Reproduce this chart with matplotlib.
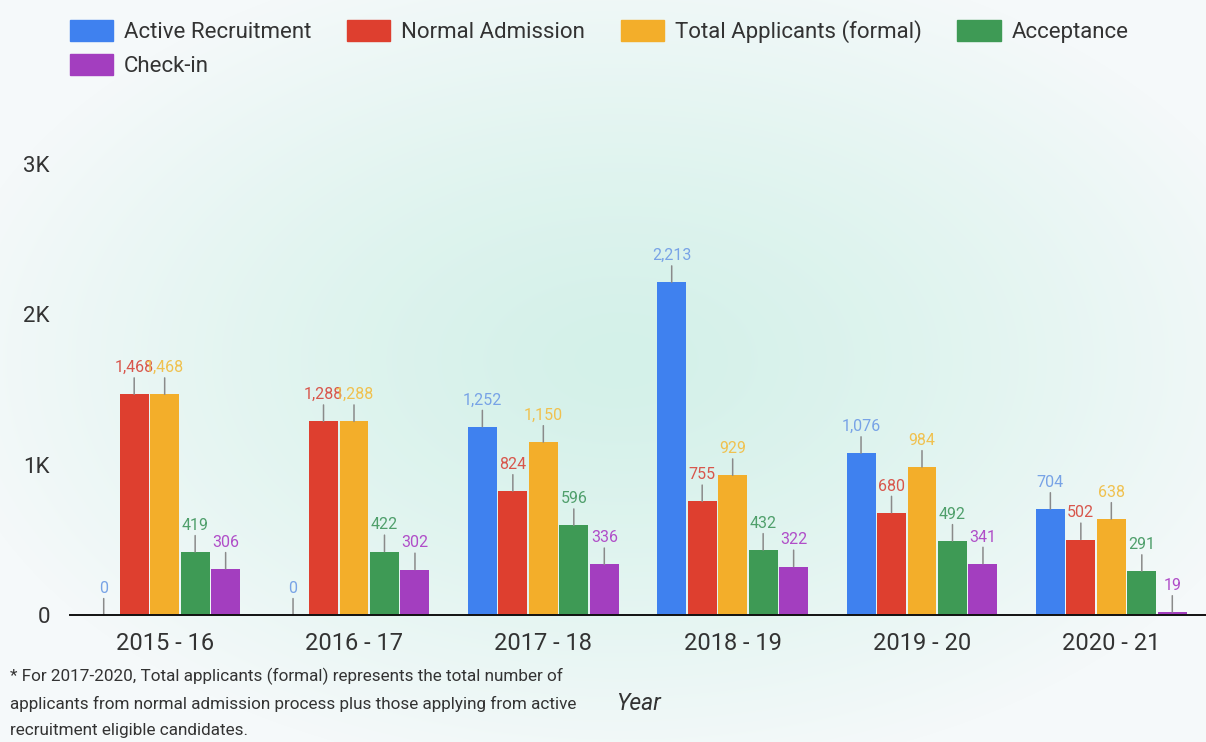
import numpy as np
import matplotlib
matplotlib.use('Agg')
import matplotlib.pyplot as plt
from matplotlib.patches import Patch
from matplotlib.colors import to_rgb

plt.rcParams['font.family'] = ['Roboto', 'DejaVu Sans']

# data
years = ['2015 - 16', '2016 - 17', '2017 - 18', '2018 - 19', '2019 - 20', '2020 - 21']
active_recruitment = [0, 0, 1252, 2213, 1076, 704]
normal_admission = [1468, 1288, 824, 755, 680, 502]
total_applicants = [1468, 1288, 1150, 929, 984, 638]
acceptance = [419, 422, 596, 432, 492, 291]
check_in = [306, 302, 336, 322, 341, 19]

series_names = ['Active Recruitment', 'Normal Admission', 'Total Applicants (formal)',
                'Acceptance', 'Check-in']
series_values = [active_recruitment, normal_admission, total_applicants, acceptance, check_in]
bar_colors = ['#3f81ef', '#de3f2f', '#f3ae2a', '#3e9a55', '#a33ebf']
label_colors = ['#78a3e6', '#d8564c', '#f0c14f', '#4f9f6b', '#b04ec8']

W, H = 1206, 742
fig = plt.figure(figsize=(W / 100, H / 100), dpi=100)

# soft radial glow in the background
bg = fig.add_axes([0, 0, 1, 1], zorder=-10)
xx, yy = np.meshgrid(np.arange(W), np.arange(H))
t = np.sqrt(((xx - 620) / 680.0) ** 2 + ((yy - 360) / 420.0) ** 2)
t = np.clip(t, 0, 1) ** 1.3
c_in = np.array(to_rgb('#d4f1e9'))
c_out = np.array(to_rgb('#f5f9fa'))
img = c_in[None, None, :] * (1 - t[..., None]) + c_out[None, None, :] * t[..., None]
bg.imshow(img, extent=[0, W, H, 0], aspect='auto')
bg.axis('off')

ax = fig.add_axes([70 / W, (H - 615) / H, (W - 70) / W, (615 - 164) / H])
ax.set_facecolor('none')

x = np.arange(len(years))
slot = 0.161
width = 0.153
for i, (name, vals) in enumerate(zip(series_names, series_values)):
    xpos = x + (i - 2) * slot
    ax.bar(xpos, vals, width, color=bar_colors[i], label=name, zorder=2)
    for xp, v in zip(xpos, vals):
        ax.annotate('{:,}'.format(v), xy=(xp, v), xytext=(0, 16), textcoords='offset points',
                    ha='center', va='baseline', fontsize=11.5, color=label_colors[i],
                    arrowprops=dict(arrowstyle='-', color='#8a8a8a', lw=1.1,
                                    shrinkA=0, shrinkB=0),
                    annotation_clip=False, zorder=3)

ax.set_xlim(-0.5, len(years) - 0.5)
ax.set_ylim(0, 3000)
ax.set_yticks([0, 1000, 2000, 3000])
ax.set_yticklabels(['0', '1K', '2K', '3K'])
ax.set_xticks(x)
ax.set_xticklabels(years)
ax.tick_params(axis='both', length=0, labelcolor='#333333', labelsize=16)
ax.tick_params(axis='x', pad=12, labelsize=17)
ax.tick_params(axis='y', pad=14.5)
for s in ['top', 'right', 'left']:
    ax.spines[s].set_visible(False)
ax.spines['bottom'].set_color('#111111')
ax.spines['bottom'].set_linewidth(1.4)
ax.spines['bottom'].set_zorder(4)

ax.set_xlabel('Year', fontsize=16.5, fontstyle='italic', color='#333333', labelpad=27)

# legend, row-major order like the original
handles = [Patch(color=c) for c in bar_colors]
order = [0, 4, 1, 2, 3]
fig.legend([handles[k] for k in order], [series_names[k] for k in order],
           ncol=4, loc='upper left', bbox_to_anchor=(70 / W, (H - 20) / H),
           frameon=False, fontsize=16, handlelength=1.94, handleheight=1.08,
           handletextpad=0.5, columnspacing=1.6, labelspacing=0.5,
           borderpad=0, borderaxespad=0, labelcolor='#333333')

fig.text(10 / W, (H - 668) / H,
         '* For 2017-2020, Total applicants (formal) represents the total number of\n'
         'applicants from normal admission process plus those applying from active\n'
         'recruitment eligible candidates.',
         ha='left', va='top', fontsize=12.3, color='#333333', linespacing=1.85)

fig.savefig('out.png', dpi=100)
